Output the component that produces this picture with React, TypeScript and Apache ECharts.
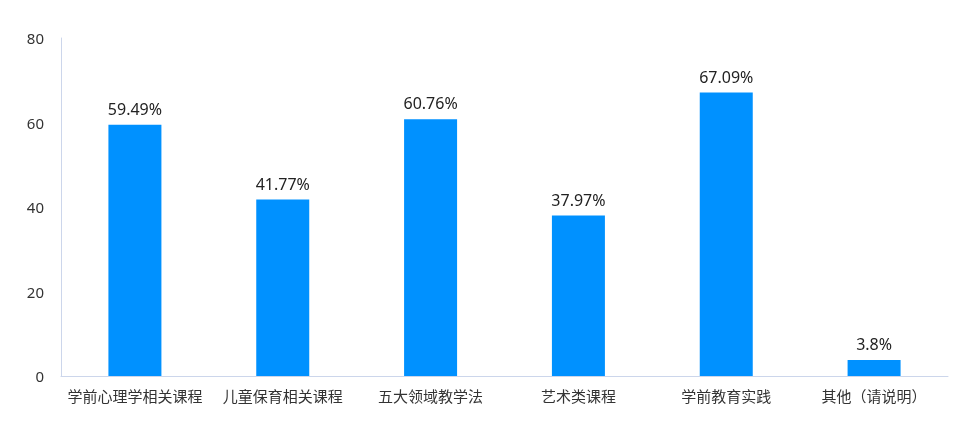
import React, { useEffect, useRef } from "react";
import * as echarts from "echarts";

const categories = ["学前心理学相关课程", "儿童保育相关课程", "五大领域教学法", "艺术类课程", "学前教育实践", "其他（请说明）"];
const values = [59.49, 41.77, 60.76, 37.97, 67.09, 3.8];
const yTicks = { min: 0, max: 80, interval: 20 };

export default function App() {
  const ref = useRef<HTMLDivElement>(null);
  useEffect(() => {
    const chart = echarts.init(ref.current!, null, { renderer: "svg" });
    chart.setOption({
      animation: false,
      grid: { left: 61, right: 25, top: 38, bottom: 56 },
      xAxis: {
        type: "category",
        data: categories,
        axisLine: { lineStyle: { color: "#ccd6eb" } },
        axisTick: { show: false },
        axisLabel: { color: "#333", fontSize: 15, margin: 12, interval: 0, fontFamily: "Noto Sans CJK SC" },
      },
      yAxis: {
        type: "value",
        min: yTicks.min,
        max: yTicks.max,
        interval: yTicks.interval,
        axisLine: { show: true, lineStyle: { color: "#ccd6eb" } },
        axisTick: { show: false },
        splitLine: { show: false },
        axisLabel: { color: "#333", fontSize: 15, margin: 17, fontFamily: "Noto Sans" },
      },
      series: [
        {
          type: "bar",
          data: values,
          barWidth: 53,
          itemStyle: { color: "#0091ff" },
          label: {
            show: true,
            position: "top",
            distance: 8,
            color: "#222",
            fontSize: 16,
            fontFamily: "Noto Sans",
            formatter: (p: any) => p.value + "%",
          },
        },
      ],
    });
    return () => chart.dispose();
  }, []);
  return <div ref={ref} style={{ position: "fixed", left: 0, top: 0, width: 973, height: 432 }} />;
}
